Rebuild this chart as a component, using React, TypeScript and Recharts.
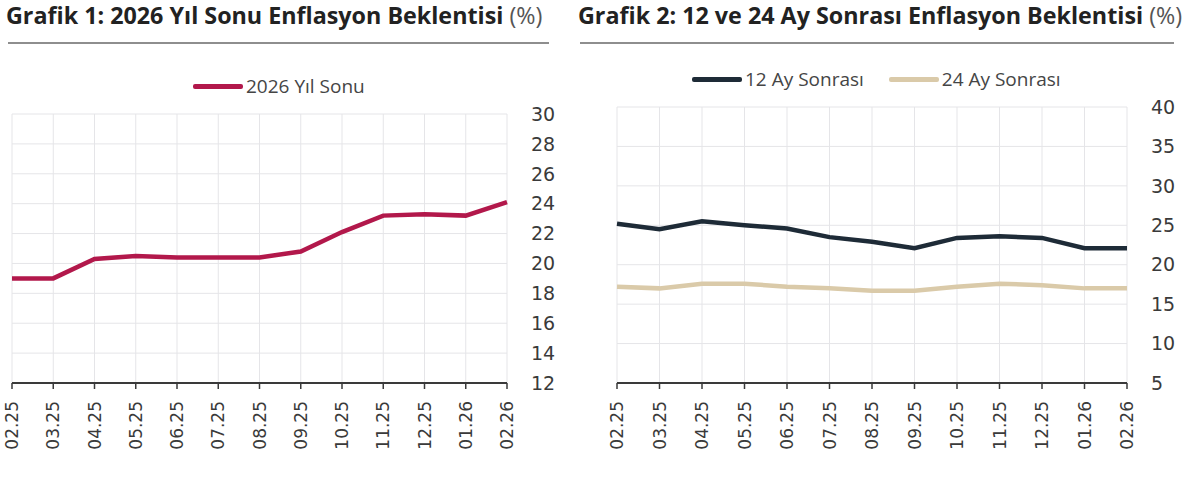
import { LineChart, Line, XAxis, YAxis, CartesianGrid, Legend } from "recharts";

const months = ["02.25", "03.25", "04.25", "05.25", "06.25", "07.25", "08.25", "09.25", "10.25", "11.25", "12.25", "01.26", "02.26"];
const yilSonu = [19.0, 19.0, 20.3, 20.5, 20.4, 20.4, 20.4, 20.8, 22.1, 23.2, 23.3, 23.2, 24.1];
const ay12 = [25.2, 24.5, 25.5, 25.0, 24.6, 23.5, 22.9, 22.1, 23.4, 23.6, 23.4, 22.1, 22.1];
const ay24 = [17.2, 17.0, 17.6, 17.6, 17.2, 17.0, 16.7, 16.7, 17.2, 17.6, 17.4, 17.0, 17.0];
const ticks1 = [12, 14, 16, 18, 20, 22, 24, 26, 28, 30];
const ticks2 = [5, 10, 15, 20, 25, 30, 35, 40];

const RED = "#b2184b";
const NAVY = "#1e2b37";
const BEIGE = "#dacaa9";

const data1 = months.map((m, i) => ({ month: m, yilSonu: yilSonu[i] }));
const data2 = months.map((m, i) => ({ month: m, ay12: ay12[i], ay24: ay24[i] }));

const tickFont = "'DejaVu Sans', sans-serif";

function MonthTick({ x, y, payload }: any) {
  const ty = y + 10;
  return (
    <text
      x={x}
      y={ty}
      transform={`rotate(-90 ${x} ${ty})`}
      textAnchor="end"
      dominantBaseline="central"
      fontSize={17}
      fontFamily={tickFont}
      fill="#3a3a3a"
    >
      {payload.value}
    </text>
  );
}

function LegendRow({ items }: { items: { label: string; color: string }[] }) {
  return (
    <div style={{ display: "flex", alignItems: "center", gap: 25 }}>
      {items.map((it) => (
        <div key={it.label} style={{ display: "flex", alignItems: "center" }}>
          <span style={{ display: "inline-block", width: 50, height: 5, borderRadius: 2, background: it.color }} />
          <span style={{ marginLeft: 3, fontFamily: "'Open Sans', sans-serif", fontSize: 19, color: "#454545" }}>
            {it.label}
          </span>
        </div>
      ))}
    </div>
  );
}

function Title({ left, width, text }: { left: number; width: number; text: string }) {
  return (
    <>
      <div
        style={{
          position: "absolute",
          left,
          top: 1,
          whiteSpace: "nowrap",
          fontFamily: "'Open Sans', sans-serif",
          fontSize: 23.3,
          lineHeight: "28px",
          color: "#222",
        }}
      >
        <span style={{ fontWeight: 700 }}>{text}</span>
        <span style={{ color: "#555" }}> (%)</span>
      </div>
      <div style={{ position: "absolute", left: left + 2, top: 42, width, height: 2, background: "#8e8e8e" }} />
    </>
  );
}

export default function App() {
  return (
    <div style={{ position: "absolute", left: 0, top: 0, width: 1200, height: 480, background: "#fff", overflow: "hidden" }}>
      <Title left={6} width={541} text="Grafik 1: 2026 Yıl Sonu Enflasyon Beklentisi" />
      <Title left={578} width={594} text="Grafik 2: 12 ve 24 Ay Sonrası Enflasyon Beklentisi" />

      <div style={{ position: "absolute", left: 0, top: 60 }}>
        <LineChart width={580} height={410} data={data1} margin={{ top: 28, left: 12, right: 3, bottom: 17 }}>
          <CartesianGrid stroke="#e5e5e8" strokeWidth={1} />
          <XAxis
            dataKey="month"
            interval={0}
            height={70}
            tick={<MonthTick />}
            tickSize={6}
            stroke="#3a3a3a"
            axisLine={{ stroke: "#3a3a3a", strokeWidth: 2 }}
            tickLine={{ stroke: "#3a3a3a", strokeWidth: 1.5 }}
          />
          <YAxis
            orientation="right"
            width={70}
            domain={[12, 30]}
            ticks={ticks1}
            axisLine={false}
            tickLine={false}
            tickSize={0}
            tickMargin={24}
            tick={{ fontSize: 19, fontFamily: tickFont, fill: "#3a3a3a", textAnchor: "start" }}
          />
          <Legend
            verticalAlign="top"
            wrapperStyle={{ top: 13, left: 193, width: "auto" }}
            content={() => <LegendRow items={[{ label: "2026 Yıl Sonu", color: RED }]} />}
          />
          <Line dataKey="yilSonu" name="2026 Yıl Sonu" stroke={RED} strokeWidth={4.5} dot={false} isAnimationActive={false} />
        </LineChart>
      </div>

      <div style={{ position: "absolute", left: 580, top: 60 }}>
        <LineChart width={620} height={410} data={data2} margin={{ top: 21, left: 37, right: 3, bottom: 17 }}>
          <CartesianGrid stroke="#e5e5e8" strokeWidth={1} />
          <XAxis
            dataKey="month"
            interval={0}
            height={70}
            tick={<MonthTick />}
            tickSize={6}
            stroke="#3a3a3a"
            axisLine={{ stroke: "#3a3a3a", strokeWidth: 2 }}
            tickLine={{ stroke: "#3a3a3a", strokeWidth: 1.5 }}
          />
          <YAxis
            orientation="right"
            width={70}
            domain={[5, 40]}
            ticks={ticks2}
            axisLine={false}
            tickLine={false}
            tickSize={0}
            tickMargin={24}
            tick={{ fontSize: 19, fontFamily: tickFont, fill: "#3a3a3a", textAnchor: "start" }}
          />
          <Legend
            verticalAlign="top"
            wrapperStyle={{ top: 6, left: 112, width: "auto" }}
            content={() => (
              <LegendRow
                items={[
                  { label: "12 Ay Sonrası", color: NAVY },
                  { label: "24 Ay Sonrası", color: BEIGE },
                ]}
              />
            )}
          />
          <Line dataKey="ay12" name="12 Ay Sonrası" stroke={NAVY} strokeWidth={4.5} dot={false} isAnimationActive={false} />
          <Line dataKey="ay24" name="24 Ay Sonrası" stroke={BEIGE} strokeWidth={4.5} dot={false} isAnimationActive={false} />
        </LineChart>
      </div>
    </div>
  );
}
